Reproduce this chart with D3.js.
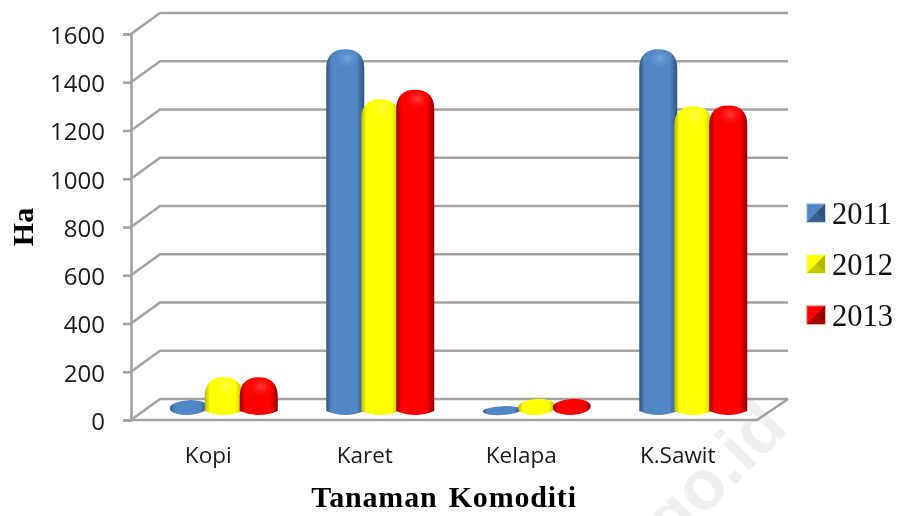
<!DOCTYPE html>
<html>
<head>
<meta charset="utf-8">
<script src="https://cdn.jsdelivr.net/npm/d3@7"></script>
<style>
  html, body { margin: 0; padding: 0; background: #fff; }
  svg { display: block; filter: blur(0.35px); }
</style>
</head>
<body>
<svg id="chart" width="900" height="516"></svg>
<script>
const categories = ["Kopi", "Karet", "Kelapa", "K.Sawit"];
const years = ["2011", "2012", "2013"];
const values2011 = [45, 1500, 20, 1500];
const values2012 = [140, 1292, 50, 1262];
const values2013 = [140, 1332, 50, 1266];
const yTicks = [0, 200, 400, 600, 800, 1000, 1200, 1400, 1600];

const seriesValues = [values2011, values2012, values2013];
const barColors = [
    { edge: "#2f5378", mid: "#5287c6", light: "#7fb0e6" },
    { edge: "#b5b500", mid: "#ffff00", light: "#ffff66" },
    { edge: "#8f0000", mid: "#ff0000", light: "#ff5050" }
];

const svg = d3.select("#chart");
const defs = svg.append("defs");

// depth of the 3d floor
const depthX = 29, depthY = -21;
const left = 131, right = 757;

const y = d3.scaleLinear().domain([0, 1600]).range([420, 34]);
const x = d3.scaleBand().domain(categories).range([left, right]);
const xBars = d3.scaleBand().domain(years).range([-38, 67]).padding(0);

// watermark behind the chart
svg.append("text")
    .attr("transform", "translate(790,430) rotate(-45)")
    .attr("text-anchor", "end")
    .attr("font-family", "Liberation Sans")
    .attr("font-weight", "bold")
    .attr("font-size", 70)
    .attr("fill", "#efefef")
    .text("go.id");

// grid lines, folded along the left wall
svg.append("g").selectAll("path")
    .data(yTicks)
    .enter()
    .append("path")
    .attr("fill", "none")
    .attr("stroke", "#a3a3a3")
    .attr("stroke-width", 2.6)
    .attr("d", d => `M${left},${y(d)}L${left + depthX},${y(d) + depthY}L${right + depthX + 2},${y(d) + depthY}`);

// floor
svg.append("path")
    .attr("fill", "none")
    .attr("stroke", "#a3a3a3")
    .attr("stroke-width", 2.6)
    .attr("d", `M${left},${y(0)}L${right},${y(0)}L${right + depthX + 2},${y(0) + depthY}`);

// y axis
const axisY = svg.append("g")
    .attr("transform", `translate(${left},0)`)
    .call(d3.axisLeft(y).tickValues(yTicks).tickSize(8).tickPadding(18).tickFormat(d3.format("d")));
axisY.select(".domain").attr("stroke", "#a3a3a3").attr("stroke-width", 2.6);
axisY.selectAll(".tick line").attr("stroke", "#a3a3a3").attr("stroke-width", 2.6);
axisY.selectAll("text")
    .attr("dy", "0.39em")
    .attr("font-family", "Open Sans")
    .attr("font-size", 24)
    .attr("fill", "#1a1a1a");

// x axis labels
svg.append("g").selectAll("text")
    .data(categories)
    .enter()
    .append("text")
    .attr("x", d => x(d) + x.bandwidth() / 2 - 1)
    .attr("y", 463)
    .attr("text-anchor", "middle")
    .attr("font-family", "Open Sans")
    .attr("font-size", 22.5)
    .attr("fill", "#1a1a1a")
    .text(d => d);

// bar gradients
barColors.forEach((c, i) => {
    const g = defs.append("linearGradient").attr("id", "bar" + i);
    g.append("stop").attr("offset", "0%").attr("stop-color", c.edge);
    g.append("stop").attr("offset", "14%").attr("stop-color", c.mid);
    g.append("stop").attr("offset", "80%").attr("stop-color", c.mid);
    g.append("stop").attr("offset", "100%").attr("stop-color", c.edge);
    const r = defs.append("radialGradient")
        .attr("id", "glow" + i)
        .attr("cx", "50%").attr("cy", "30%").attr("r", "50%");
    r.append("stop").attr("offset", "0%").attr("stop-color", c.light).attr("stop-opacity", 0.8);
    r.append("stop").attr("offset", "100%").attr("stop-color", c.mid).attr("stop-opacity", 0);
});

const baseY = y(0) - 9;
const valueScale = d3.scaleLinear().domain([0, 1600]).range([0, y(0) - y(1600)]);

function barPath(cx, w, h) {
    const hw = w / 2;
    const top = baseY - h;
    // very short bars squash into a tilted lens
    if (h < 20) {
        const ry = (h + 4) / 2;
        const my = top + ry;
        return `M${cx - hw},${my + 1}A${hw},${ry} -3 1 1 ${cx + hw},${my - 1}A${hw},${ry} -3 1 1 ${cx - hw},${my + 1}Z`;
    }
    const ry = Math.min(19, h * 0.6);
    return `M${cx - hw},${baseY}` +
        `L${cx - hw},${top + ry}` +
        `C${cx - hw},${top + ry * 0.3} ${cx - hw * 0.6},${top} ${cx},${top}` +
        `C${cx + hw * 0.6},${top} ${cx + hw},${top + ry * 0.3} ${cx + hw},${top + ry}` +
        `L${cx + hw},${baseY}` +
        `Q${cx},${baseY + 8} ${cx - hw},${baseY}Z`;
}

// bars, later series drawn over earlier ones
const barWidth = 38;
years.forEach((year, s) => {
    const g = svg.append("g");
    const cx = d => x(d) + x.bandwidth() / 2 + xBars(year) + xBars.bandwidth() / 2;
    const rows = categories.map((c, i) => ({ c, v: seriesValues[s][i] }));
    g.selectAll("path.bar")
        .data(rows)
        .enter()
        .append("path")
        .attr("class", "bar")
        .attr("fill", `url(#bar${s})`)
        .attr("d", d => barPath(cx(d.c), barWidth, valueScale(d.v)));
    g.selectAll("ellipse")
        .data(rows.filter(d => d.v > 100))
        .enter()
        .append("ellipse")
        .attr("cx", d => cx(d.c) + 2)
        .attr("cy", d => baseY - valueScale(d.v) + 14)
        .attr("rx", 14)
        .attr("ry", 12)
        .attr("fill", `url(#glow${s})`);
});

// axis titles
svg.append("text")
    .attr("x", 444)
    .attr("y", 507)
    .attr("text-anchor", "middle")
    .attr("font-family", "Liberation Serif")
    .attr("font-weight", "bold")
    .attr("font-size", 30)
    .attr("letter-spacing", 0.8)
    .attr("word-spacing", 3)
    .attr("fill", "#000")
    .text("Tanaman Komoditi");

svg.append("text")
    .attr("transform", "translate(33,227) rotate(-90)")
    .attr("text-anchor", "middle")
    .attr("font-family", "Liberation Serif")
    .attr("font-weight", "bold")
    .attr("font-size", 30)
    .attr("fill", "#000")
    .text("Ha");

// legend
const legendY = d3.scalePoint().domain(years).range([213, 315]);
const legend = svg.append("g").selectAll("g")
    .data(years)
    .enter()
    .append("g")
    .attr("transform", d => `translate(807,${legendY(d)})`);

legend.append("rect")
    .attr("x", 0).attr("y", -9)
    .attr("width", 18).attr("height", 18)
    .attr("fill", (d, i) => barColors[i].mid)
    .attr("stroke", (d, i) => barColors[i].light)
    .attr("stroke-width", 1);

// pyramid bevel of the swatch
legend.append("path")
    .attr("d", "M18,-9L9,0L18,9Z")
    .attr("fill", (d, i) => barColors[i].edge);

legend.append("path")
    .attr("d", "M0,9L9,0L18,9Z")
    .attr("fill", (d, i) => barColors[i].edge)
    .attr("opacity", 0.75);

legend.append("text")
    .attr("x", 25)
    .attr("y", 11)
    .attr("font-family", "Liberation Serif")
    .attr("font-size", 30.5)
    .attr("fill", "#111")
    .text(d => d);
</script>
</body>
</html>
